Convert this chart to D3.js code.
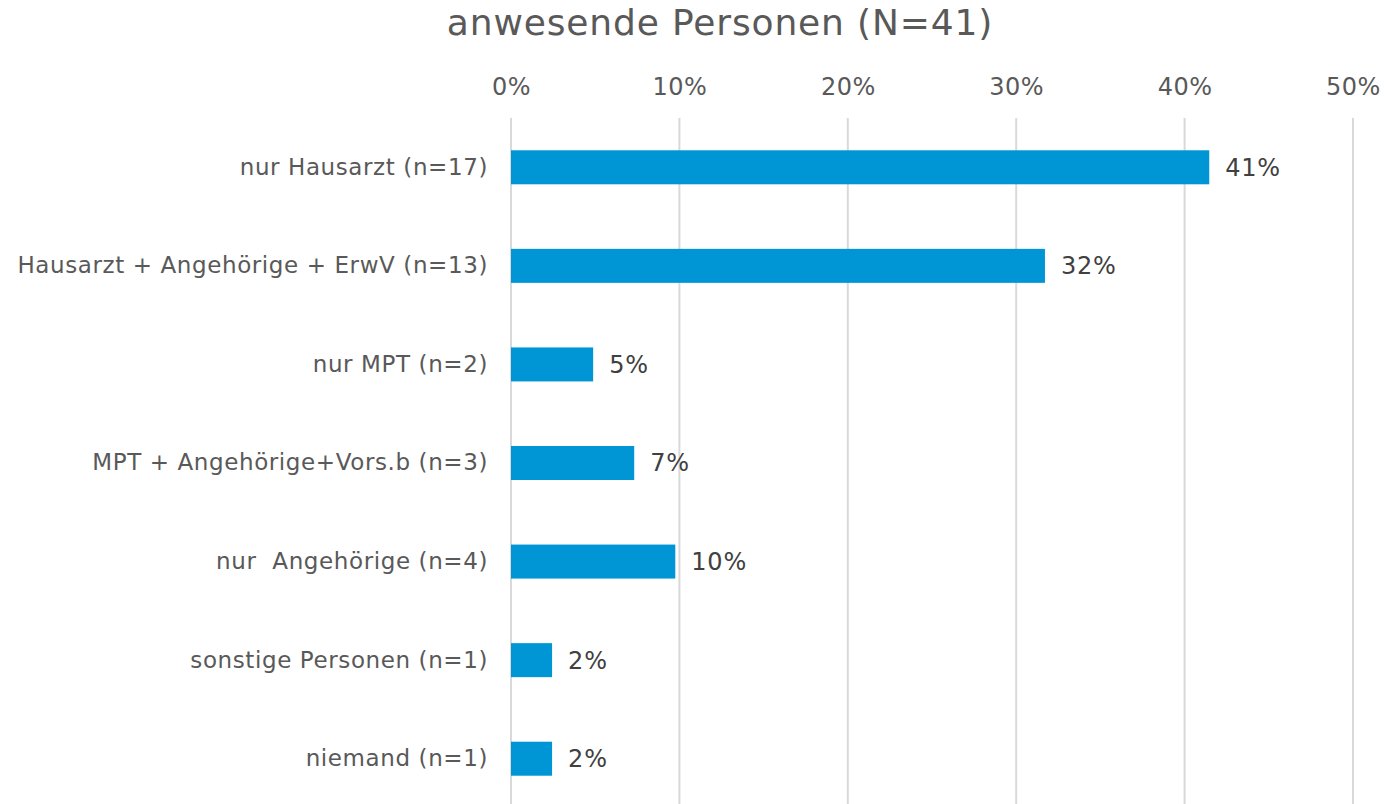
<!DOCTYPE html>
<html>
<head>
<meta charset="utf-8">
<script src="https://cdn.jsdelivr.net/npm/d3@7"></script>
<style>
  body { margin: 0; background: #fff; }
  svg { display: block; font-family: "DejaVu Sans", Verdana, sans-serif; }
</style>
</head>
<body>
<svg width="1385" height="804"></svg>
<script>
var categories = [
  "nur Hausarzt (n=17)",
  "Hausarzt + Angehörige + ErwV (n=13)",
  "nur MPT (n=2)",
  "MPT + Angehörige+Vors.b (n=3)",
  "nur  Angehörige (n=4)",
  "sonstige Personen (n=1)",
  "niemand (n=1)"
];
var counts = [17, 13, 2, 3, 4, 1, 1];
var total = 41;
var shares = counts.map(function(c) { return c / total; });
var tickValues = [0, 0.1, 0.2, 0.3, 0.4, 0.5];

var svg = d3.select("svg"),
    margin = { top: 118, right: 32, bottom: 0, left: 511 },
    width = svg.attr("width") - margin.left - margin.right,
    height = 690,
    g = svg.append("g").attr("transform", "translate(" + margin.left + "," + margin.top + ")");

var x = d3.scaleLinear().domain([0, 0.5]).range([0, width]),
    y = d3.scaleBand().domain(categories).range([0, height]).paddingInner(0.655).paddingOuter(0.3275);

// title
svg.append("text")
    .attr("x", 720)
    .attr("y", 35)
    .attr("text-anchor", "middle")
    .attr("font-size", 36)
    .attr("letter-spacing", 0.85)
    .attr("fill", "#595959")
    .text("anwesende Personen (N=41)");

// gridlines
g.selectAll(".grid")
    .data(tickValues)
    .enter().append("line")
    .attr("class", "grid")
    .attr("x1", function(d) { return x(d); })
    .attr("x2", function(d) { return x(d); })
    .attr("y1", 0)
    .attr("y2", 700)
    .attr("stroke", "#d9d9d9")
    .attr("stroke-width", 2);

// top axis labels
var xAxis = g.append("g")
    .attr("transform", "translate(0,-23)")
    .call(d3.axisTop(x).tickValues(tickValues).tickFormat(d3.format(".0%")).tickSize(0).tickPadding(0));
xAxis.select(".domain").remove();
xAxis.selectAll("text")
    .attr("font-family", "DejaVu Sans, Verdana, sans-serif")
    .attr("font-size", 24)
    .attr("letter-spacing", 0.5)
    .attr("fill", "#595959");

// category labels
var yAxis = g.append("g")
    .attr("transform", "translate(-23,0)")
    .call(d3.axisLeft(y).tickSize(0).tickPadding(0));
yAxis.select(".domain").remove();
yAxis.selectAll("text")
    .attr("font-family", "DejaVu Sans, Verdana, sans-serif")
    .attr("font-size", 23)
    .attr("letter-spacing", 0.6)
    .attr("fill", "#595959")
    .style("white-space", "pre");

// bars
g.selectAll(".bar")
    .data(shares)
    .enter().append("rect")
    .attr("class", "bar")
    .attr("x", x(0))
    .attr("y", function(d, i) { return y(categories[i]); })
    .attr("width", function(d) { return x(d) - x(0); })
    .attr("height", y.bandwidth())
    .attr("fill", "#0096d6");

// value labels
g.selectAll(".val")
    .data(shares)
    .enter().append("text")
    .attr("class", "val")
    .attr("x", function(d) { return x(d) + 16; })
    .attr("y", function(d, i) { return y(categories[i]) + y.bandwidth() / 2; })
    .attr("dy", "0.35em")
    .attr("font-size", 24)
    .attr("letter-spacing", 0.8)
    .attr("fill", "#404040")
    .text(function(d) { return d3.format(".0%")(d); });
</script>
</body>
</html>
